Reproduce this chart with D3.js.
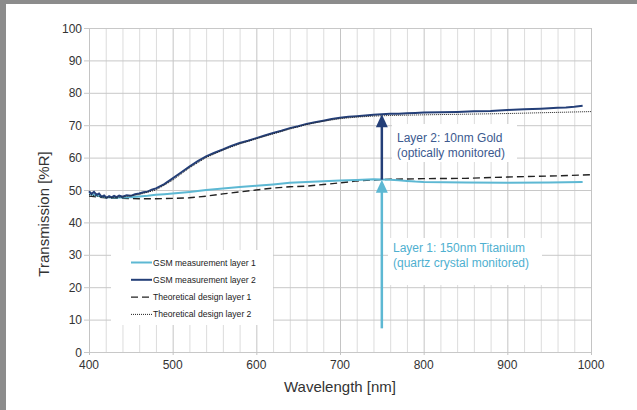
<!DOCTYPE html>
<html><head><meta charset="utf-8">
<script src="https://cdn.jsdelivr.net/npm/d3@7"></script>
<style>body{margin:0;background:#fff}svg{display:block}text{font-family:"Liberation Sans",Arial,sans-serif}</style>
</head><body><svg id="c" width="637" height="410"></svg>
<script>
// ---- data ----
const xTicks = [400, 500, 600, 700, 800, 900, 1000];
const yTicks = [0, 10, 20, 30, 40, 50, 60, 70, 80, 90, 100];
const seriesNames = ["GSM measurement layer 1", "GSM measurement layer 2", "Theoretical design layer 1", "Theoretical design layer 2"];

const measL1_x = [400,410,420,430,440,450,460,470,480,490,500,520,540,560,580,600,620,640,660,680,700,720,740,760,770,780,790,800,850,900,950,990];
const measL1_y = [48.8,48.2,47.8,47.7,47.7,47.8,48.0,48.2,48.5,48.7,48.9,49.4,50.0,50.5,50.9,51.3,51.7,52.2,52.5,52.7,52.9,53.1,53.3,53.2,53.0,52.8,52.6,52.5,52.3,52.2,52.3,52.5];

const measL2_x = [400,403,406,409,412,415,418,421,424,427,430,433,436,440,445,450,455,460,465,470,475,480,490,500,510,520,530,540,550,560,570,580,590,600,610,620,630,640,650,660,670,680,690,700,710,720,730,740,750,760,770,780,790,800,820,840,860,880,900,920,940,960,970,980,990];
const measL2_y = [49.6,48.8,49.4,48.5,48.9,47.9,48.3,47.6,48.1,47.7,48.2,47.8,48.3,47.9,48.4,48.2,48.7,48.9,49.3,49.5,50.1,50.5,51.8,53.6,55.4,57.2,58.9,60.4,61.5,62.5,63.6,64.5,65.2,66.0,66.8,67.6,68.3,69.1,69.7,70.4,70.9,71.4,71.9,72.3,72.6,72.8,73.0,73.2,73.4,73.5,73.5,73.7,73.8,73.9,74.0,74.1,74.3,74.4,74.7,74.9,75.1,75.4,75.5,75.7,76.0];

const theoL1_x = [400,420,440,460,480,500,520,540,560,580,600,620,640,660,680,700,720,740,760,800,850,900,950,1000];
const theoL1_y = [48.1,47.6,47.4,47.3,47.3,47.4,47.6,48.1,48.8,49.4,50.0,50.6,51.0,51.2,51.7,52.2,52.8,53.1,53.3,53.5,53.6,54.0,54.3,54.7];

const theoL2_x = [400,420,440,460,480,500,520,540,560,580,600,620,640,660,680,700,720,740,760,780,800,850,900,950,1000];
const theoL2_y = [48.6,47.6,47.8,48.6,50.0,53.0,56.8,60.0,62.3,64.2,65.8,67.3,68.8,70.2,71.2,72.0,72.5,72.8,73.0,73.1,73.2,73.4,73.6,73.9,74.2];

const arrowX = 750;
const arrow1 = [7.3, 53.2];
const arrow2 = [53.2, 73.4];
const note1 = ["Layer 2: 10nm Gold", "(optically monitored)"];
const note2 = ["Layer 1: 150nm Titanium", "(quartz crystal monitored)"];

// ---- drawing ----
const svg = d3.select("#c");
const lightBlue = "#5db8d3", navy = "#243f78";
const x = d3.scaleLinear().domain([400, 1000]).range([89, 591]);
const y = d3.scaleLinear().domain([0, 100]).range([352, 28]);

svg.append("rect").attr("x",0).attr("y",0).attr("width",637).attr("height",410).attr("fill","#fff");
svg.append("rect").attr("x",0).attr("y",0).attr("width",637).attr("height",4).attr("fill","#8c8c8c");
svg.append("rect").attr("x",0).attr("y",0).attr("width",6).attr("height",410).attr("fill","#8c8c8c");

// grid
const minor = d3.range(400, 1001, 20);
svg.append("g").selectAll("line").data(minor).join("line")
  .attr("x1", d=>x(d)+0.5).attr("x2", d=>x(d)+0.5).attr("y1", y(100)).attr("y2", y(0))
  .attr("stroke", d => d % 100 === 0 ? "#c4c4c4" : "#dcdcdc").attr("stroke-width", 1);
svg.append("g").selectAll("line").data(yTicks).join("line")
  .attr("x1", x(400)-5).attr("x2", x(1000)).attr("y1", d=>y(d)+0.5).attr("y2", d=>y(d)+0.5)
  .attr("stroke", "#c8c8c8").attr("stroke-width", 1);
svg.append("g").selectAll("line").data(xTicks).join("line")
  .attr("x1", d=>x(d)+0.5).attr("x2", d=>x(d)+0.5).attr("y1", y(0)).attr("y2", y(0)+3)
  .attr("stroke", "#c4c4c4");

// tick labels
svg.append("g").selectAll("text").data(yTicks).join("text")
  .attr("x", 82).attr("y", d=>y(d)+4.5).attr("text-anchor","end")
  .attr("font-size", 12).attr("fill", "#333").text(d=>d);
svg.append("g").selectAll("text").data(xTicks).join("text")
  .attr("x", d=>x(d)).attr("y", 369).attr("text-anchor","middle")
  .attr("font-size", 12).attr("fill", "#333").text(d=>d);

svg.append("text").attr("x", 340).attr("y", 392).attr("text-anchor","middle")
  .attr("font-size", 15).attr("fill","#333").text("Wavelength [nm]");
svg.append("text").attr("transform","translate(49,214) rotate(-90)").attr("text-anchor","middle")
  .attr("font-size", 15).attr("fill","#333").text("Transmission [%R]");

// boxes behind annotations / legend
svg.append("rect").attr("x",111).attr("y",250).attr("width",162).attr("height",75).attr("fill","#fff");
svg.append("rect").attr("x",392).attr("y",124).attr("width",125).attr("height",38).attr("fill","#fff");
svg.append("rect").attr("x",388).attr("y",238).attr("width",154).attr("height",47).attr("fill","#fff");

const line = d3.line().x(d=>x(d[0])).y(d=>y(d[1]));
const zip = (a,b) => a.map((v,i)=>[v,b[i]]);

svg.append("path").attr("d", line(zip(theoL1_x, theoL1_y))).attr("fill","none")
  .attr("stroke","#222").attr("stroke-width",1.4).attr("stroke-dasharray","7,4");
svg.append("path").attr("d", line(zip(measL1_x, measL1_y))).attr("fill","none")
  .attr("stroke",lightBlue).attr("stroke-width",2);
svg.append("path").attr("d", line(zip(measL2_x, measL2_y))).attr("fill","none")
  .attr("stroke",navy).attr("stroke-width",2);
svg.append("path").attr("d", line(zip(theoL2_x, theoL2_y))).attr("fill","none")
  .attr("stroke","#222").attr("stroke-width",1).attr("stroke-dasharray","1,1");

// arrows
function arrow(v0, v1, color) {
  const ax = x(arrowX), yt = y(v1), yb = y(v0);
  svg.append("line").attr("x1",ax).attr("x2",ax).attr("y1",yb).attr("y2",yt+10)
    .attr("stroke",color).attr("stroke-width",2.5);
  svg.append("path").attr("d",`M${ax},${yt} L${ax-6},${yt+13} L${ax+6},${yt+13} Z`).attr("fill",color);
}
arrow(arrow1[0], arrow1[1], lightBlue);
arrow(arrow2[0], arrow2[1], navy);

svg.append("g").selectAll("text").data(note1).join("text")
  .attr("x", 397).attr("y", (d,i)=>142+i*14.5).attr("font-size",12).attr("fill","#3c5a8f").text(d=>d);
svg.append("g").selectAll("text").data(note2).join("text")
  .attr("x", 393).attr("y", (d,i)=>251.5+i*15).attr("font-size",12).attr("fill","#4fb0d0").text(d=>d);

// legend
const lg = svg.append("g");
const legStyles = [
  {c: lightBlue, w: 2, da: null},
  {c: navy, w: 2, da: null},
  {c: "#222", w: 1.4, da: "7,4"},
  {c: "#222", w: 1, da: "1,1"}
];
seriesNames.forEach((n,i)=>{
  const yy = 262.5 + i*17.3;
  lg.append("line").attr("x1",131).attr("x2",152).attr("y1",yy).attr("y2",yy)
    .attr("stroke",legStyles[i].c).attr("stroke-width",legStyles[i].w)
    .attr("stroke-dasharray",legStyles[i].da);
  lg.append("text").attr("x",153).attr("y",yy+3).attr("font-size",8.6).attr("fill","#222").text(n);
});
</script></body></html>
